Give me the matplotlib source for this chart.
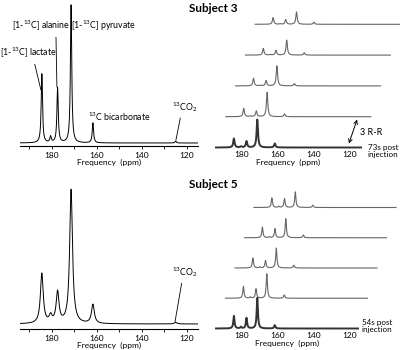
import matplotlib
matplotlib.use("Agg")
import matplotlib.pyplot as plt
import matplotlib.transforms as mtransforms
import numpy as np

plt.rcParams['font.family'] = ['Lato', 'DejaVu Sans']
plt.rcParams['mathtext.fontset'] = 'custom'
plt.rcParams['mathtext.rm'] = 'Lato'
plt.rcParams['mathtext.it'] = 'Lato:italic'
plt.rcParams['mathtext.bf'] = 'Lato:bold'

# peak positions (ppm): lactate, pyruvate hydrate, alanine, pyruvate, bicarbonate, CO2
peak_ppm = [184.5, 180.6, 177.5, 171.5, 161.8, 125.0]

# large spectra, relative peak amplitudes
s3_amps = [69, 6, 55, 138, 20, 2]
s5_amps = [50, 7, 31, 134, 19, 1.5]

# stacked spectra, bottom (first) to top, same peak order (no CO2)
s3_stack = [[9, 1, 6.3, 28, 4],
            [8.3, 0.8, 5.7, 24.3, 2.7],
            [7.7, 0.6, 5.3, 20, 2.3],
            [6.7, 0.5, 4.7, 15, 2.3],
            [6.7, 0.5, 4.7, 12.3, 2]]
s5_stack = [[12.6, 1.5, 10.6, 30.6, 3.3],
            [12, 1.2, 9.4, 24.4, 3.3],
            [10, 1, 7.4, 20, 2.7],
            [10.6, 1, 9, 19, 2.7],
            [9.6, 1, 9, 15.6, 2.3]]

tick_major = [180, 160, 140, 120]

W, H = 400, 350
fig = plt.figure(figsize=(W / 100, H / 100), dpi=100)


def box(l, r, top, bot):
    # pixel box (image coords) -> figure fraction
    return [l / W, 1 - bot / H, (r - l) / W, (bot - top) / H]


def spectrum(x, centers, amps, g):
    y = np.zeros_like(x)
    for c, a in zip(centers, amps):
        y += a * g**2 / ((x - c)**2 + g**2)
    return y


ppm = np.linspace(200, 110, 4000)


def big_axes(rect, xlim, ylim):
    ax = fig.add_axes(rect)
    ax.set_xlim(*xlim)
    ax.set_ylim(*ylim)
    for s in ['top', 'left', 'right']:
        ax.spines[s].set_visible(False)
    ax.spines['bottom'].set_linewidth(0.8)
    ax.set_yticks([])
    ax.set_xticks(tick_major)
    ax.set_xticks(np.arange(190, 110, -10), minor=True)
    ax.tick_params(axis='x', which='both', length=2.5, width=0.6, labelsize=6, pad=1.5)
    ax.set_xlabel("Frequency  (ppm)", fontsize=6, labelpad=0.5)
    ax.patch.set_alpha(0)
    return ax


def stack_axes(rect, xlim, stack, dx, dy, g):
    ax = fig.add_axes(rect)
    ax.set_xlim(*xlim)
    ax.set_ylim(-0.5, 29.5)
    for s in ['top', 'left', 'right', 'bottom']:
        ax.spines[s].set_visible(False)
    ax.set_yticks([])
    ax.set_xticks(tick_major)
    ax.tick_params(axis='x', length=0, labelsize=6, pad=2)
    ax.set_xlabel("Frequency  (ppm)", fontsize=6, labelpad=0.5)
    ax.patch.set_alpha(0)
    x = np.linspace(xlim[0], xlim[1], 1500)
    for i in range(len(stack) - 1, -1, -1):
        tr = mtransforms.offset_copy(ax.transData, fig=fig, x=i * dx, y=i * dy, units='dots')
        y = spectrum(x, peak_ppm[:5], stack[i], g)
        if i == 0:
            ax.plot(x, y, color='#333333', lw=1.4, transform=tr, clip_on=False)
        else:
            ax.plot(x, y, color='#666666', lw=0.8, transform=tr, clip_on=False)
    return ax


# ---- Subject 3 ----
ax1 = big_axes(box(20, 198, 3, 146), (194.2, 115.1), (-3, 140))
ax1.plot(ppm, spectrum(ppm, peak_ppm, s3_amps, 0.35), color='k', lw=0.7)
lp = dict(arrowstyle='-', lw=0.6, color='k', shrinkA=1, shrinkB=0)
ax1.annotate("[1-$^{13}$C] lactate", xy=(184.9, 53), xytext=(190.6, 90),
             ha='center', va='center', fontsize=6.3,
             arrowprops=dict(lp, relpos=(0.6, 0)), annotation_clip=False)
ax1.annotate("[1-$^{13}$C] alanine", xy=(177.8, 56), xytext=(184.7, 117),
             ha='center', va='center', fontsize=6.3,
             arrowprops=dict(lp, relpos=(0.75, 0)), annotation_clip=False)
ax1.text(157.3, 117, "[1-$^{13}$C] pyruvate", ha='center', va='center', fontsize=6.3)
ax1.text(150.2, 26, "$^{13}$C bicarbonate", ha='center', va='center', fontsize=6.3)
ax1.annotate("$^{13}$CO$_2$", xy=(124.9, 3), xytext=(120.9, 36),
             ha='center', va='center', fontsize=6.3,
             arrowprops=dict(lp, relpos=(0.35, 0)), annotation_clip=False)

stack_axes(box(216, 361, 118, 148), (194.44, 113.89), s3_stack, 9.8, 30.8, 0.45)
fig.text(213 / W, 1 - 8 / H, "Subject 3", ha='center', va='center',
         fontsize=8.5, fontweight='bold')
fig.text(368 / W, 1 - 151 / H, "73s post\ninjection", ha='left', va='center',
         fontsize=5.8, linespacing=1.1)
fig.text(360 / W, 1 - 132 / H, "3 R-R", ha='left', va='center', fontsize=6.5)
fig.patches.append(matplotlib.patches.FancyArrowPatch(
    (358 / W, 1 - 117 / H), (348 / W, 1 - 146 / H), transform=fig.transFigure,
    arrowstyle='<->,head_length=2.5,head_width=1.3', lw=0.7, color='k'))

# ---- Subject 5 ----
ax2 = big_axes(box(20, 198, 186, 329), (194.2, 115.1), (-5, 138))
ax2.plot(ppm, spectrum(ppm, peak_ppm, s5_amps, 0.75), color='k', lw=0.7)
ax2.annotate("$^{13}$CO$_2$", xy=(125.3, 2.3), xytext=(120.9, 52),
             ha='center', va='center', fontsize=6.3,
             arrowprops=dict(lp, relpos=(0.4, 0)), annotation_clip=False)

stack_axes(box(216, 358, 299, 329), (194.44, 115.56), s5_stack, 9.5, 30.25, 0.4)
fig.text(213 / W, 1 - 184 / H, "Subject 5", ha='center', va='center',
         fontsize=8.5, fontweight='bold')
fig.text(362 / W, 1 - 326 / H, "54s post\ninjection", ha='left', va='center',
         fontsize=5.8, linespacing=1.1)

fig.savefig("out.png", dpi=100, facecolor='white')
